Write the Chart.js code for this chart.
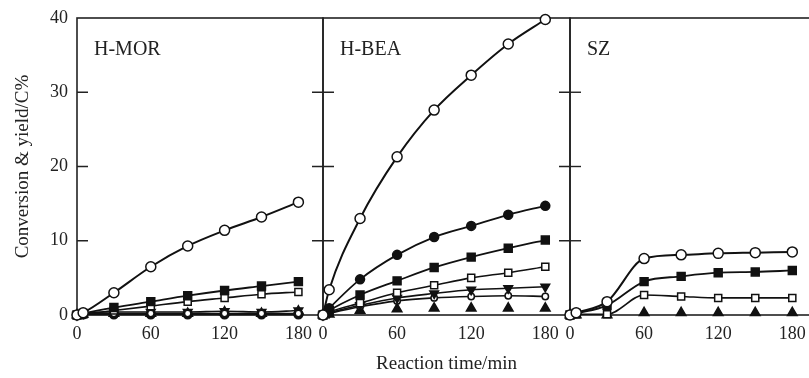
<!DOCTYPE html>
<html><head><meta charset="utf-8">
<script src="https://cdn.jsdelivr.net/npm/chart.js@4.4.0/dist/chart.umd.min.js"></script>
<style>
html,body{margin:0;padding:0;background:#fff;width:809px;height:378px;overflow:hidden;position:relative}
canvas{position:absolute;top:0}
</style></head><body>
<canvas id="c1" width="333" height="378" style="left:0px"></canvas>
<canvas id="c2" width="277" height="378" style="left:303px"></canvas>
<canvas id="c3" width="277" height="378" style="left:550px"></canvas>
<script>
// ---- data ----
const times = [0, 5, 30, 60, 90, 120, 150, 180];
const xTickLabels = [0, 60, 120, 180];
const yTickLabels = [0, 10, 20, 30, 40];
const panelNames = ['H-MOR', 'H-BEA', 'SZ'];
const xTitle = 'Reaction time/min';
const yTitle = 'Conversion & yield/C%';

// H-MOR
const morConversion = [0, 0.3, 3.0, 6.5, 9.3, 11.4, 13.2, 15.2];
const morFilledSquare = [0, 0.2, 1.0, 1.8, 2.6, 3.3, 3.9, 4.5];
const morOpenSquare = [0, 0.1, 0.6, 1.2, 1.8, 2.3, 2.8, 3.1];
const morFilledCircle = [0, 0.1, 0.1, 0.1, 0.1, 0.1, 0.1, 0.1];
const morDownTriangle = [0, 0.2, 0.4, 0.4, 0.4, 0.5, 0.4, 0.6];
const morSmallCircle = [0, 0.1, 0.2, 0.2, 0.2, 0.2, 0.2, 0.2];
const morUpTriangle = [0, 0.1, 0.2, 0.2, 0.2, 0.4, 0.2, 0.5];

// H-BEA
const beaConversion = [0, 3.4, 13.0, 21.3, 27.6, 32.3, 36.5, 39.8];
const beaFilledCircle = [0, 0.9, 4.8, 8.1, 10.5, 12.0, 13.5, 14.7];
const beaFilledSquare = [0, 0.6, 2.7, 4.6, 6.4, 7.8, 9.0, 10.1];
const beaOpenSquare = [0, 0.4, 1.6, 3.0, 4.0, 5.0, 5.7, 6.5];
const beaDownTriangle = [0, 0.3, 1.3, 2.3, 2.9, 3.4, 3.6, 3.8];
const beaSmallCircle = [0, 0.2, 1.1, 1.9, 2.3, 2.5, 2.6, 2.5];
const beaUpTriangle = [0, 0.1, 0.6, 0.8, 0.9, 0.9, 0.9, 0.9];

// SZ
const szConversion = [0, 0.3, 1.8, 7.6, 8.1, 8.3, 8.4, 8.5];
const szFilledSquare = [0, 0.2, 1.3, 4.5, 5.2, 5.7, 5.8, 6.0];
const szOpenSquare = [0, 0.1, 0.1, 2.7, 2.5, 2.3, 2.3, 2.3];
const szUpTriangle = [0, 0, 0, 0.3, 0.3, 0.3, 0.3, 0.3];

// ---- styles ----
const INK = '#111';
const FONT = '"Liberation Serif", "Times New Roman", serif';
const styles = {
  conv:   {pointStyle: 'circle', pointRadius: 5, pointBackgroundColor: '#fff', borderWidth: 2},
  fcirc:  {pointStyle: 'circle', pointRadius: 4.5, pointBackgroundColor: INK, borderWidth: 1.8},
  fsq:    {pointStyle: 'rect', pointRadius: 5.6, pointBackgroundColor: INK, borderWidth: 1.8},
  osq:    {pointStyle: 'rect', pointRadius: 5, pointBackgroundColor: '#fff', borderWidth: 1.6},
  dtri:   {pointStyle: 'triangle', rotation: 180, pointRadius: 5, pointBackgroundColor: INK, borderWidth: 1.6},
  scirc:  {pointStyle: 'circle', pointRadius: 3.2, pointBackgroundColor: '#fff', borderWidth: 1.6},
  utri:   {pointStyle: 'triangle', pointRadius: 5.5, pointBackgroundColor: INK, borderWidth: 1.6, showLine: false}
};
function ds(values, key) {
  const s = styles[key];
  return Object.assign({
    data: times.map((t, i) => ({x: t, y: values[i]})),
    borderColor: INK,
    pointBorderColor: INK,
    pointBorderWidth: 1.5,
    cubicInterpolationMode: 'monotone',
    clip: false
  }, s, {pointRotation: s.rotation || 0});
}

const framePlugin = {
  id: 'frame',
  beforeDatasetsDraw(chart, args, opts) {
    const {ctx, chartArea: a, scales: {y}} = chart;
    ctx.save();
    ctx.strokeStyle = '#222';
    ctx.lineWidth = 1.6;
    ctx.strokeRect(a.left, a.top, a.right - a.left, a.bottom - a.top);
    ctx.lineWidth = 1.4;
    yTickLabels.forEach(v => {
      if (v === yTickLabels[0] || v === yTickLabels[yTickLabels.length - 1]) return;
      const py = y.getPixelForValue(v);
      ctx.beginPath();
      ctx.moveTo(a.left, py); ctx.lineTo(a.left + 11, py);
      if (opts.rightTicks) { ctx.moveTo(a.right, py); ctx.lineTo(a.right - 11, py); }
      ctx.stroke();
    });
    ctx.fillStyle = '#222';
    ctx.font = '20px ' + FONT;
    ctx.textBaseline = 'alphabetic';
    ctx.fillText(opts.name, a.left + 17, a.top + 37);
    ctx.restore();
  }
};

function makeChart(id, name, datasets, opt) {
  return new Chart(document.getElementById(id), {
    type: 'line',
    data: {datasets},
    plugins: [framePlugin],
    options: {
      responsive: false,
      animation: false,
      devicePixelRatio: 1,
      layout: {padding: {top: 18, left: opt.padLeft, right: 10, bottom: 0}},
      plugins: {legend: {display: false}, tooltip: {enabled: false}, frame: {name, rightTicks: opt.rightTicks}},
      scales: {
        x: {
          type: 'linear', min: 0, max: 200,
          grid: {display: false}, border: {display: false},
          afterBuildTicks: s => { s.ticks = xTickLabels.map(v => ({value: v})); },
          afterFit: s => { s.height = 63; },
          ticks: {color: '#222', font: {family: FONT, size: 18}, padding: 0, maxRotation: 0},
          title: {display: opt.xTitle, text: xTitle, color: '#222', font: {family: FONT, size: 19}, padding: {top: 0, bottom: 3}}
        },
        y: {
          display: opt.showY, min: 0, max: 40,
          grid: {display: false}, border: {display: false},
          afterBuildTicks: s => { s.ticks = yTickLabels.map(v => ({value: v})); },
          afterFit: s => { if (opt.showY) s.width = 77; },
          ticks: {color: '#222', font: {family: FONT, size: 18}, padding: 1},
          title: {display: opt.showY, text: yTitle, color: '#222', font: {family: FONT, size: 19}, padding: {top: 12, bottom: 0}}
        }
      }
    }
  });
}

makeChart('c1', panelNames[0], [
  ds(morConversion, 'conv'), ds(morFilledSquare, 'fsq'), ds(morOpenSquare, 'osq'),
  ds(morSmallCircle, 'scirc'), ds(morDownTriangle, 'dtri'), ds(morFilledCircle, 'fcirc'), ds(morUpTriangle, 'utri')
], {padLeft: 0, showY: true, xTitle: false, rightTicks: true});

makeChart('c2', panelNames[1], [
  ds(beaConversion, 'conv'), ds(beaFilledCircle, 'fcirc'), ds(beaFilledSquare, 'fsq'), ds(beaOpenSquare, 'osq'),
  ds(beaDownTriangle, 'dtri'), ds(beaSmallCircle, 'scirc'), ds(beaUpTriangle, 'utri')
], {padLeft: 20, showY: false, xTitle: true, rightTicks: true});

makeChart('c3', panelNames[2], [
  ds(szConversion, 'conv'), ds(szFilledSquare, 'fsq'), ds(szOpenSquare, 'osq'), ds(szUpTriangle, 'utri')
], {padLeft: 20, showY: false, xTitle: false, rightTicks: false});
</script>
</body></html>
